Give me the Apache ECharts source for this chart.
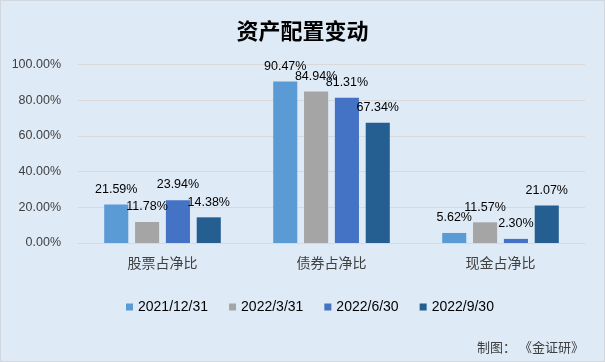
<!DOCTYPE html>
<html>
<head>
<meta charset="utf-8">
<script src="https://cdn.jsdelivr.net/npm/echarts@6/dist/echarts.min.js"></script>
<style>
html,body{margin:0;padding:0;background:#DEEAF6;}
#wrap{position:relative;width:605px;height:362px;}
#c{width:605px;height:362px;}
#b{position:absolute;left:0;top:0;width:603px;height:360px;border:1px solid #D0D7DE;pointer-events:none;}
</style>
</head>
<body>
<div id="wrap"><div id="c"></div><div id="b"></div></div>
<script>
const categories = ['股票占净比', '债券占净比', '现金占净比'];
const seriesNames = ['2021/12/31', '2022/3/31', '2022/6/30', '2022/9/30'];
const s2021_12_31 = [21.59, 90.47, 5.62];
const s2022_3_31 = [11.78, 84.94, 11.57];
const s2022_6_30 = [23.94, 81.31, 2.30];
const s2022_9_30 = [14.38, 67.34, 21.07];
const yTicks = [0, 20, 40, 60, 80, 100];
const colors = ['#5B9BD5', '#A5A5A5', '#4472C4', '#255E91'];
const values = [s2021_12_31, s2022_3_31, s2022_6_30, s2022_9_30];

const font = 'Liberation Sans, "Noto Sans CJK SC", sans-serif';
const chart = echarts.init(document.getElementById('c'));
chart.setOption({
  backgroundColor: '#DEEAF6',
  animation: false,
  title: [{
    text: '资产配置变动', left: 'center', top: 15,
    textStyle: { fontFamily: '"Noto Sans CJK SC", sans-serif', fontSize: 22, fontWeight: 'bold', color: '#000' }
  }, {
    text: '制图： 《金证研》', right: 16, top: 336,
    textStyle: { fontFamily: '"Noto Sans CJK SC", sans-serif', fontSize: 13, fontWeight: 'normal', color: '#404040' }
  }],
  legend: {
    data: seriesNames, top: 300, left: 126, padding: 0,
    itemWidth: 7, itemHeight: 7, itemGap: 21,
    icon: 'rect',
    textStyle: { fontFamily: font, fontSize: 14, color: '#000' }
  },
  grid: { left: 78, right: 20, top: 64.5, bottom: 119 },
  xAxis: {
    type: 'category', data: categories,
    axisLine: { lineStyle: { color: '#D9D9D9' } },
    axisTick: { show: false },
    axisLabel: { fontFamily: '"Noto Sans CJK SC", sans-serif', fontSize: 14, color: '#404040', margin: 13 }
  },
  yAxis: {
    type: 'value', min: yTicks[0], max: yTicks[yTicks.length - 1], interval: 20,
    axisLine: { show: false }, axisTick: { show: false },
    splitLine: { lineStyle: { color: '#D9D9D9' } },
    axisLabel: { fontFamily: font, fontSize: 12.5, color: '#404040', margin: 17, formatter: v => v.toFixed(2) + '%' }
  },
  series: seriesNames.map((n, i) => ({
    name: n, type: 'bar', data: values[i],
    barGap: '28%', barCategoryGap: '31%',
    itemStyle: { color: colors[i] },
    label: { show: true, position: 'top', distance: 9, fontFamily: font, fontSize: 12.5, color: '#000', formatter: p => p.value.toFixed(2) + '%' }
  }))
});
</script>
</body>
</html>
